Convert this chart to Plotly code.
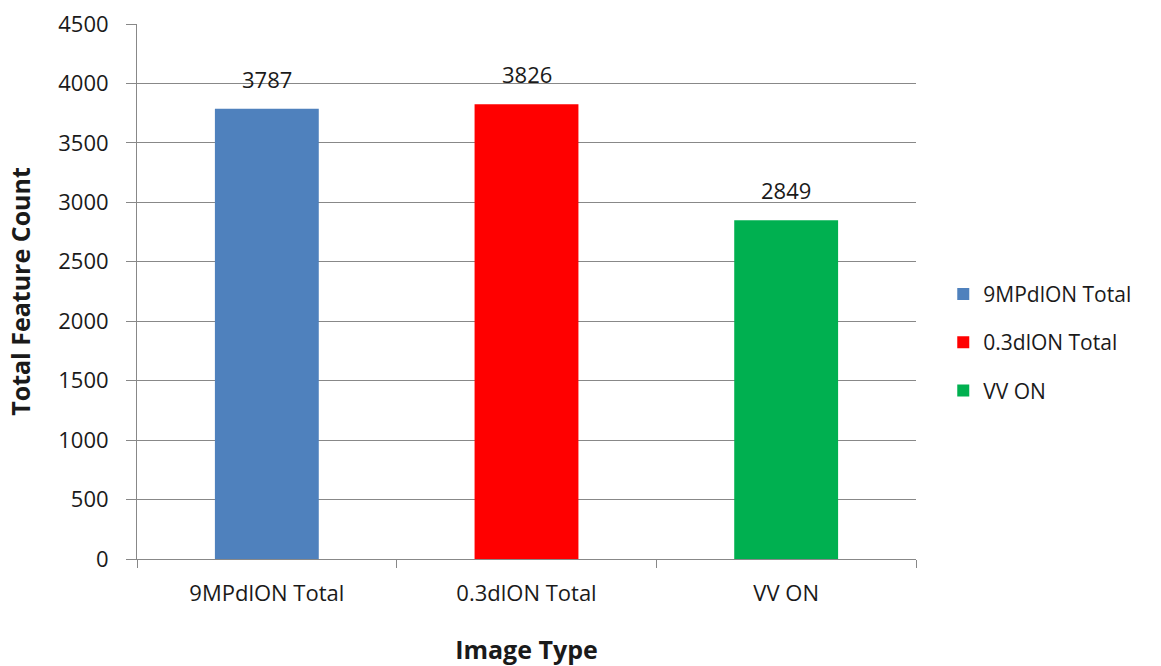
import plotly.graph_objects as go

categories = ["9MPdlON Total", "0.3dlON Total", "VV ON"]
counts = [3787, 3826, 2849]
colors = ["#4F81BD", "#FF0000", "#00B050"]
y_ticks = [0, 500, 1000, 1500, 2000, 2500, 3000, 3500, 4000, 4500]

FONT = "Open Sans, Lato, sans-serif"
AXIS_GREY = "#888888"
TEXT = "#1a1a1a"

fig = go.Figure()
for i, (cat, val, col) in enumerate(zip(categories, counts, colors)):
    fig.add_trace(go.Bar(
        x=[cat], y=[val], name=cat, marker=dict(color=col, line=dict(width=0)),
        width=0.4, legendgroup=f"g{i}", showlegend=True,
    ))
    fig.add_annotation(
        x=cat, y=val, text=str(val), showarrow=False, yanchor="bottom",
        yshift=13, font=dict(family=FONT, size=22, color=TEXT),
    )

fig.update_layout(
    width=1161, height=666,
    margin=dict(l=137, r=245, t=24, b=107, autoexpand=False),
    plot_bgcolor="white", paper_bgcolor="white",
    barmode="overlay",
    font=dict(family=FONT, size=22, color=TEXT),
    legend=dict(
        x=1.035, xanchor="left", y=0.405, yanchor="middle",
        font=dict(family=FONT, size=21, color=TEXT),
        tracegroupgap=18, itemwidth=30,
    ),
)

fig.update_xaxes(
    type="category", categoryorder="array", categoryarray=categories,
    showline=True, linecolor=AXIS_GREY, linewidth=1, automargin=False,
    ticks="outside", tickson="boundaries", ticklen=8, tickcolor=AXIS_GREY,
    showgrid=False, ticklabelstandoff=15,
    title=dict(text="<b>Image Type</b>", font=dict(family=FONT, size=25), standoff=36),
)
fig.update_yaxes(
    range=[0, 4500], tickvals=y_ticks, showline=True, linecolor=AXIS_GREY, linewidth=1,
    automargin=False,
    ticks="outside", ticklen=10, tickcolor=AXIS_GREY,
    showgrid=True, gridcolor=AXIS_GREY, gridwidth=1, zeroline=False,
    ticklabelstandoff=13,
    title=dict(text="<b>Total Feature Count</b>", font=dict(family=FONT, size=25), standoff=20),
)

fig.write_html("out.html")
